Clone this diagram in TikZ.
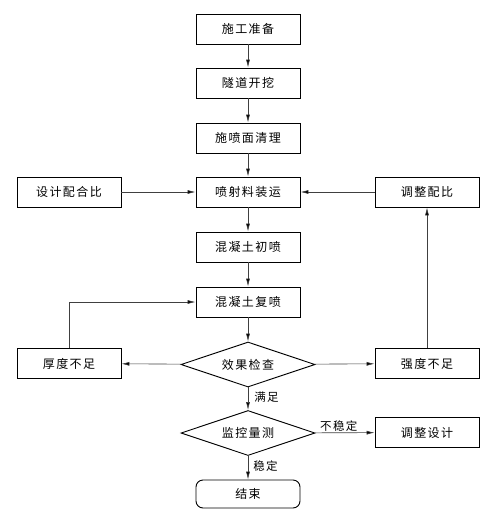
\documentclass[tikz,border=0pt]{standalone}
\usepackage{fontspec}
\setmainfont{Noto Sans CJK SC}[LetterSpace=12]
\usetikzlibrary{shapes.geometric,arrows.meta}
\begin{document}
\begin{tikzpicture}[x=1pt,y=-1pt,
  every node/.style={font=\fontsize{12}{14}\selectfont},
  box/.style={draw,line width=0.9pt,minimum width=104pt,minimum height=30pt,inner sep=0pt},
  endbox/.style={box,rounded corners=7pt,minimum height=28pt},
  dia/.style={draw,line width=0.9pt,diamond,aspect=3,minimum width=134pt,minimum height=45pt,inner sep=0pt},
  conn/.style={line width=0.6pt,draw=black!75,-{Latex[length=8pt,width=4pt,fill=black]}},
  lbl/.style={font=\fontsize{11.5}{13}\selectfont,inner sep=1pt}]
\useasboundingbox (0,0) rectangle (489,519);
\node[box] (a) at (248,29) {施工准备};
\node[box] (b) at (248,83) {隧道开挖};
\node[box] (c) at (248,138) {施喷面清理};
\node[box] (d) at (248,192) {喷射料装运};
\node[box] (l1) at (69,192) {设计配合比};
\node[box] (r1) at (427,192) {调整配比};
\node[box] (e) at (248,247) {混凝土初喷};
\node[box] (f) at (248,302) {混凝土复喷};
\node[dia] (g) at (248,364.5) {效果检查};
\node[box] (l2) at (69,363.5) {厚度不足};
\node[box] (r2) at (427,363.5) {强度不足};
\node[dia] (h) at (248,433) {监控量测};
\node[box] (r3) at (427,432.5) {调整设计};
\node[endbox] (z) at (248,494) {结束};
\coordinate (lc) at (69,302);
\draw[conn] (a) -- (b);
\draw[conn] (b) -- (c);
\draw[conn] (c) -- (d);
\draw[conn] (l1) -- (d);
\draw[conn] (r1) -- (d);
\draw[conn] (d) -- (e);
\draw[conn] (e) -- (f);
\draw[conn] (f) -- (g);
\draw[conn] (g) -- (l2);
\draw[conn] (g) -- (r2);
\draw[conn] (l2.north) -- (lc) -- (f.west);
\draw[conn] (r2) -- (r1);
\draw[conn] (g) -- node[lbl,right,pos=0.45,xshift=5pt] {满足} (h);
\draw[conn] (h) -- node[lbl,above,pos=0.4] {不稳定} (r3);
\draw[conn] (h) -- node[lbl,right,pos=0.45,xshift=4pt] {稳定} (z);
\end{tikzpicture}
\end{document}
